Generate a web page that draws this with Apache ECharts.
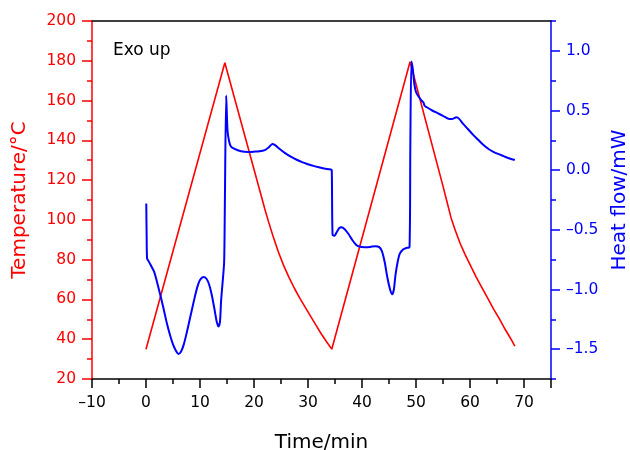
<!DOCTYPE html>
<html>
<head>
<meta charset="utf-8">
<script src="https://cdn.jsdelivr.net/npm/echarts@6/dist/echarts.min.js"></script>
<style>html,body{margin:0;padding:0;background:#fff}#c{width:630px;height:450px}</style>
</head>
<body>
<div id="c"></div>
<script>
// Temperature (°C) vs time (min)
var tempTime  = [0, 14.6, 21.3, 22, 22.7, 23.5, 24.5, 25.5, 26.5, 27.5, 28.5, 29.5, 30.5, 31.5, 32.5, 33.5, 34.4,
                 48.9, 54.9, 55.7, 56.5, 57.3, 58.2, 59.1, 60.1, 61.1, 62.2, 63.3, 64.4, 65.5, 66.5, 67.5, 68.3];
var tempValue = [35, 179, 112.5, 105.5, 99, 92, 84, 77, 71, 65.5, 60.5, 56, 51.5, 47, 42.5, 38.5, 35,
                 179.5, 118, 109.5, 101, 94.5, 88, 82.5, 77, 71.5, 66, 60.5, 55, 50, 45, 40.5, 36.5];

// Heat flow (mW) vs time (min)
var heatTime  = [0.05, 0.12, 0.2, 0.45, 0.87, 1.5, 2.0, 2.73, 3.3, 3.9, 4.5, 5.0, 5.5, 6.0, 6.5, 7.0, 7.5, 8.0, 8.5, 9.0, 9.5, 10.0, 10.65, 11.2, 11.7, 12.2, 12.7, 13.1, 13.43, 13.7, 13.9, 14.17, 14.47,
                 14.6, 14.85, 15.1, 15.4, 15.7, 16.3, 17.6, 19, 20, 21, 22, 22.7, 23.4, 23.9, 24.7, 25.7, 26.8, 28, 29, 30, 31, 32, 33, 34.2, 34.4,
                 34.55, 34.9, 35.3, 35.8, 36.2, 36.8, 37.5, 38.2, 38.9, 39.5, 40.5, 41.5, 42.5, 43.2, 43.7, 44.2, 44.7, 45.2, 45.6, 45.9, 46.2, 46.6, 47.0, 47.6, 48.2, 48.8,
                 48.95, 49.15, 49.4, 49.7, 50.0, 50.5, 51.0, 51.4, 51.6, 52.0, 53, 54, 55, 56.2, 56.8, 57.5, 58.0, 58.6, 59.6, 60.5, 61.5, 62.5, 63.5, 64.4, 65.2, 66.2, 67.2, 68.3];
var heatValue = [-0.28, -0.55, -0.74, -0.76, -0.795, -0.85, -0.93, -1.06, -1.17, -1.29, -1.39, -1.46, -1.51, -1.54, -1.52, -1.46, -1.37, -1.27, -1.17, -1.07, -0.98, -0.92, -0.895, -0.91, -0.96, -1.05, -1.17, -1.27, -1.31, -1.27, -1.1, -0.95, -0.77,
                 -0.3, 0.625, 0.33, 0.24, 0.2, 0.18, 0.158, 0.153, 0.155, 0.158, 0.168, 0.19, 0.22, 0.21, 0.18, 0.145, 0.113, 0.085, 0.065, 0.05, 0.036, 0.024, 0.014, 0.006, 0.0,
                 -0.54, -0.55, -0.52, -0.485, -0.478, -0.495, -0.535, -0.585, -0.625, -0.64, -0.645, -0.643, -0.637, -0.645, -0.68, -0.77, -0.9, -1.0, -1.04, -1.0, -0.88, -0.77, -0.70, -0.665, -0.652, -0.645,
                 0.2, 0.91, 0.85, 0.72, 0.655, 0.615, 0.585, 0.565, 0.54, 0.527, 0.5, 0.478, 0.455, 0.428, 0.43, 0.444, 0.43, 0.395, 0.345, 0.3, 0.255, 0.21, 0.175, 0.152, 0.136, 0.118, 0.1, 0.085];

// Tick label values
var xTicks = [-10, 0, 10, 20, 30, 40, 50, 60, 70];
var tempTicks = [20, 40, 60, 80, 100, 120, 140, 160, 180, 200];
var heatTicks = [-1.5, -1.0, -0.5, 0.0, 0.5, 1.0];

function zip(a, b) { return a.map(function (v, i) { return [v, b[i]]; }); }
function fmt(v, d) { return (v < 0 ? '\u2013' : '') + Math.abs(v).toFixed(d); }

var FONT = 'DejaVu Sans';
var RED = '#ff0000', BLUE = '#0000ff';

var chart = echarts.init(document.getElementById('c'), null, {renderer: 'canvas'});
chart.setOption({
  animation: false,
  backgroundColor: '#ffffff',
  grid: {left: 92, right: 79, top: 21, bottom: 71, containLabel: false, outerBoundsMode: 'none'},
  xAxis: [{
    type: 'value', min: -10, max: 75, interval: 10, position: 'bottom',
    name: 'Time/min', nameLocation: 'middle', nameGap: 54,
    nameTextStyle: {color: '#000', fontFamily: FONT, fontSize: 20},
    axisLine: {show: true, onZero: false, lineStyle: {color: '#000', width: 1.5}},
    axisTick: {show: true, inside: false, length: 9, lineStyle: {color: '#000', width: 1.5}},
    minorTick: {show: true, splitNumber: 2, length: 5, lineStyle: {color: '#000', width: 1.5}},
    axisLabel: {color: '#000', fontFamily: FONT, fontSize: 15.5, margin: 16,
      customValues: xTicks,
      formatter: function (v) { return fmt(v, 0); }},
    splitLine: {show: false}
  }, {
    type: 'value', min: -10, max: 75, position: 'top',
    axisLine: {show: true, onZero: false, lineStyle: {color: '#000', width: 1.5}},
    axisTick: {show: false}, axisLabel: {show: false}, splitLine: {show: false}
  }],
  yAxis: [{
    type: 'value', min: 20, max: 200, interval: 20, position: 'left',
    name: 'Temperature/\u00B0C', nameLocation: 'middle', nameGap: 62,
    nameTextStyle: {color: RED, fontFamily: FONT, fontSize: 20},
    axisLine: {show: true, onZero: false, lineStyle: {color: RED, width: 1.5}},
    axisTick: {show: true, length: 10, lineStyle: {color: RED, width: 1.5}},
    minorTick: {show: true, splitNumber: 2, length: 5, lineStyle: {color: RED, width: 1.5}},
    axisLabel: {color: RED, fontFamily: FONT, fontSize: 15.5, margin: 16, customValues: tempTicks},
    splitLine: {show: false}
  }, {
    type: 'value', min: -1.75, max: 1.25, position: 'right',
    name: 'Heat flow/mW', nameLocation: 'middle', nameGap: 57,
    nameTextStyle: {color: BLUE, fontFamily: FONT, fontSize: 20},
    axisLine: {show: true, onZero: false, lineStyle: {color: BLUE, width: 1.5}},
    axisTick: {show: true, length: 9, customValues: heatTicks, lineStyle: {color: BLUE, width: 1.5}},
    axisLabel: {color: BLUE, fontFamily: FONT, fontSize: 15.5, margin: 15, customValues: heatTicks,
      formatter: function (v) { return fmt(v, 1); }},
    splitLine: {show: false}
  }, {
    type: 'value', min: -1.75, max: 1.25, interval: 0.25, position: 'right',
    axisLine: {show: false, onZero: false},
    axisTick: {show: true, length: 5, lineStyle: {color: BLUE, width: 1.5}},
    axisLabel: {show: false}, splitLine: {show: false}
  }],
  graphic: [{
    type: 'text', left: 113, top: 42, z: 100,
    style: {text: 'Exo up', fill: '#000', font: '17px "DejaVu Sans"'}
  }],
  series: [{
    name: 'Temperature', type: 'line', xAxisIndex: 0, yAxisIndex: 0,
    data: zip(tempTime, tempValue), showSymbol: false, smooth: false,
    lineStyle: {color: RED, width: 1.6}, itemStyle: {color: RED}
  }, {
    name: 'Heat flow', type: 'line', xAxisIndex: 0, yAxisIndex: 1,
    data: zip(heatTime, heatValue), showSymbol: false, smooth: 0.25,
    lineStyle: {color: BLUE, width: 2}, itemStyle: {color: BLUE}
  }]
});
</script>
</body>
</html>
